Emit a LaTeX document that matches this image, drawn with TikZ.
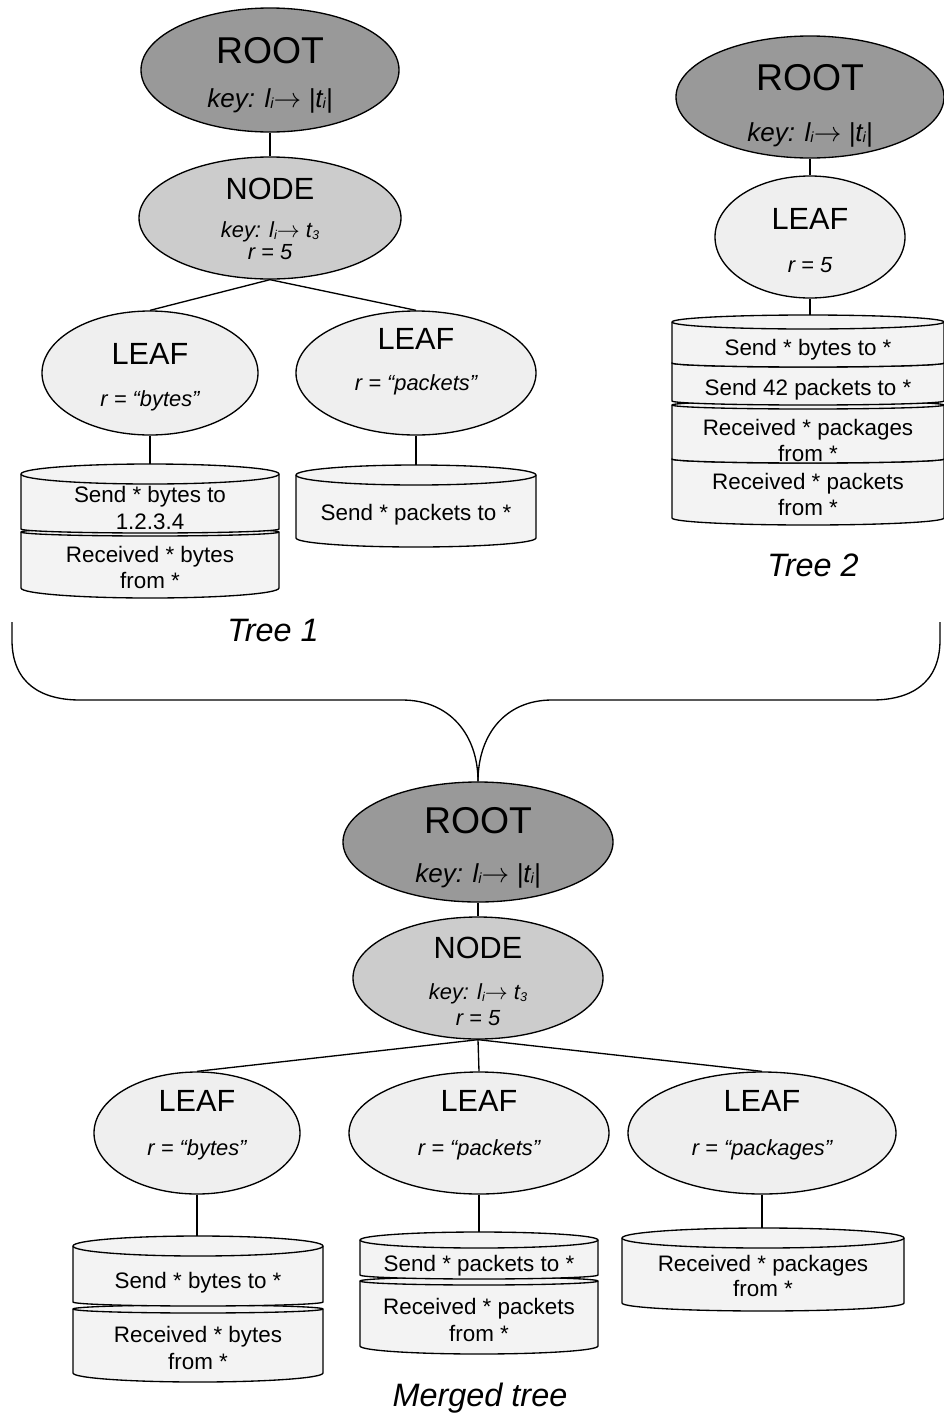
\documentclass[tikz,border=0pt]{standalone}
\usepackage{fontspec}
\setmainfont{Liberation Sans}
\usetikzlibrary{shapes.geometric}
\definecolor{rootgray}{HTML}{999999}
\definecolor{nodegray}{HTML}{CCCCCC}
\definecolor{leafgray}{HTML}{EFEFEF}
\definecolor{cylgray}{HTML}{F3F3F3}
% cylinder segment: cx, rx, y top, ry top, y bottom, ry bottom (pixels, y downwards)
\newcommand\cylseg[6]{%
  \path[cylbody] ({#1-#2},#3) -- ({#1-#2},#5)
    arc[start angle=180,end angle=360,x radius=#2*0.75pt,y radius=#6*0.75pt]
    -- ({#1+#2},#3)
    arc[start angle=0,end angle=180,x radius=#2*0.75pt,y radius=#4*0.75pt] -- cycle;
  \draw[cylline] ({#1-#2},#3)
    arc[start angle=180,end angle=360,x radius=#2*0.75pt,y radius=#4*0.75pt];
}
\newcommand\sbA[1]{\raisebox{-1pt}{\fontsize{11}{11}\selectfont #1}}
\newcommand\sbB[1]{\raisebox{-1pt}{\fontsize{9.5}{9.5}\selectfont #1}}
\newcommand\keyroot{key: l\sbA{i}$\rightarrow$ |t\sbA{i}|}
\newcommand\keynode{key: l\sbB{i}$\rightarrow$ t\sbB{3}}
\begin{document}
\begin{tikzpicture}[x=0.75pt,y=-0.75pt,
  ell/.style={ellipse, draw=black, line width=1pt, inner sep=0pt},
  esize/.style 2 args={minimum width=#1*1.5pt, minimum height=#2*1.5pt},
  rootst/.style={ell, fill=rootgray},
  nodest/.style={ell, fill=nodegray},
  leafst/.style={ell, fill=leafgray},
  conn/.style={draw=black, line width=1pt},
  cylbody/.style={fill=cylgray, draw=black, line width=1pt, line join=round},
  cylline/.style={draw=black, line width=1pt},
  bigtxt/.style={inner sep=0pt, font=\fontsize{28}{34}\selectfont, text height=20pt, text depth=0pt},
  rootkey/.style={inner sep=0pt, font=\itshape\fontsize{19.5}{24}\selectfont, text height=14pt, text depth=0pt},
  midtxt/.style={inner sep=0pt, font=\fontsize{23}{28}\selectfont, text height=16.5pt, text depth=0pt},
  keytxt/.style={inner sep=0pt, font=\itshape\fontsize{16.4}{20}\selectfont, text height=11.8pt, text depth=0pt},
  cyltxt/.style={inner sep=0pt, font=\fontsize{16.8}{20.5}\selectfont, text height=12pt, text depth=0pt},
  captxt/.style={inner sep=0pt, font=\itshape\fontsize{24.3}{29}\selectfont, text height=17.4pt, text depth=0pt}
]
\path[use as bounding box, fill=white] (0,0) rectangle (944,1414);

% ---------------- Tree 1 ----------------
\node[rootst, esize={129}{62}] (r1) at (270,70) {};
\node[bigtxt] (r1a) at (270,50) {ROOT};
\node[rootkey] (r1b) at (270,98) {\keyroot};
\node[nodest, esize={131}{61}] (n1) at (270,218) {};
\node[midtxt] (n1a) at (270,188) {NODE};
\node[keytxt] (n1b) at (270,230) {\keynode};
\node[keytxt] (n1c) at (270,252) {r = 5};
\node[leafst, esize={108}{62}] (l1a) at (150,373) {};
\node[midtxt] (l1at) at (150,353) {LEAF};
\node[keytxt] (l1ar) at (150,399) {r = “bytes”};
\node[leafst, esize={120}{62}] (l1b) at (416,373) {};
\node[midtxt] (l1bt) at (416,338) {LEAF};
\node[keytxt] (l1br) at (416,383) {r = “packets”};

\cylseg{150}{129}{532}{4}{588}{10}
\cylseg{150}{129}{474}{10}{529}{4}
\node[cyltxt] (c1a1) at (150,494) {Send * bytes to};
\node[cyltxt] (c1a2) at (150,521) {1.2.3.4};
\node[cyltxt] (c1a3) at (150,554) {Received * bytes};
\node[cyltxt] (c1a4) at (150,580) {from *};
\coordinate (c1atop) at (150,464);

\cylseg{416}{120}{475}{10}{538}{9}
\node[cyltxt] (c1b1) at (416,512) {Send * packets to *};
\coordinate (c1btop) at (416,465);

\draw[conn] (r1.south) -- (n1.north);
\draw[conn] (n1.south) -- (l1a.north);
\draw[conn] (n1.south) -- (l1b.north);
\draw[conn] (l1a.south) -- (c1atop);
\draw[conn] (l1b.south) -- (c1btop);
\node[captxt] (cap1) at (273,630) {Tree 1};

% ---------------- Tree 2 ----------------
\node[rootst, esize={134}{61}] (r2) at (810,97) {};
\node[bigtxt] (r2a) at (810,77) {ROOT};
\node[rootkey] (r2b) at (810,132) {\keyroot};
\node[leafst, esize={95}{61}] (l2) at (810,237) {};
\node[midtxt] (l2t) at (810,218) {LEAF};
\node[keytxt] (l2r) at (810,265) {r = 5};

\cylseg{808}{136}{459}{4}{518}{7}
\cylseg{808}{136}{405}{4}{459}{4}
\cylseg{808}{136}{363}{4}{401}{4}
\cylseg{808}{136}{322}{7}{363}{4}
\node[cyltxt] (c21) at (808,347) {Send * bytes to *};
\node[cyltxt] (c22) at (808,387) {Send 42 packets to *};
\node[cyltxt] (c23) at (808,427) {Received * packages};
\node[cyltxt] (c24) at (808,453) {from *};
\node[cyltxt] (c25) at (808,481) {Received * packets};
\node[cyltxt] (c26) at (808,507) {from *};
\coordinate (c2top) at (810,315);

\draw[conn] (r2.south) -- (l2.north);
\draw[conn] (l2.south) -- (c2top);
\node[captxt] (cap2) at (813,565) {Tree 2};

% ---------------- Merge brace ----------------
\node[rootst, esize={135}{60}] (rm) at (478,842) {};
\coordinate (bl) at (12,622);
\coordinate (br) at (940,622);
\draw[conn] (bl) -- (12,640) .. controls (12,684) and (42,700) .. (80,700)
  -- (402,700) .. controls (450,700) and (478,735) .. (rm.north);
\draw[conn] (br) -- (940,640) .. controls (940,684) and (910,700) .. (872,700)
  -- (552,700) .. controls (505,700) and (478,735) .. (rm.north);

% ---------------- Merged tree ----------------
\node[bigtxt] (rma) at (478,820) {ROOT};
\node[rootkey] (rmb) at (478,873) {\keyroot};
\node[nodest, esize={125}{61}] (nm) at (478,978) {};
\node[midtxt] (nma) at (478,947) {NODE};
\node[keytxt] (nmb) at (478,992) {\keynode};
\node[keytxt] (nmc) at (478,1018) {r = 5};

\node[leafst, esize={103}{61}] (lm1) at (197,1133) {};
\node[midtxt] (lm1t) at (197,1100) {LEAF};
\node[keytxt] (lm1r) at (197,1148) {r = “bytes”};
\node[leafst, esize={130}{61}] (lm2) at (479,1133) {};
\node[midtxt] (lm2t) at (479,1100) {LEAF};
\node[keytxt] (lm2r) at (479,1148) {r = “packets”};
\node[leafst, esize={134}{61}] (lm3) at (762,1133) {};
\node[midtxt] (lm3t) at (762,1100) {LEAF};
\node[keytxt] (lm3r) at (762,1148) {r = “packages”};

\cylseg{198}{125}{1309}{4}{1373}{9}
\cylseg{198}{125}{1246}{10}{1302}{4}
\node[cyltxt] (cm11) at (198,1280) {Send * bytes to *};
\node[cyltxt] (cm12) at (198,1334) {Received * bytes};
\node[cyltxt] (cm13) at (198,1361) {from *};
\coordinate (cm1top) at (197,1236);

\cylseg{479}{119}{1281}{4}{1346}{8}
\cylseg{479}{119}{1240}{8}{1275}{4}
\node[cyltxt] (cm21) at (479,1263) {Send * packets to *};
\node[cyltxt] (cm22) at (479,1306) {Received * packets};
\node[cyltxt] (cm23) at (479,1333) {from *};
\coordinate (cm2top) at (479,1232);

\cylseg{763}{141}{1238}{10}{1303}{8}
\node[cyltxt] (cm31) at (763,1263) {Received * packages};
\node[cyltxt] (cm32) at (763,1288) {from *};
\coordinate (cm3top) at (762,1228);

\draw[conn] (rm.south) -- (nm.north);
\draw[conn] (nm.south) -- (lm1.north);
\draw[conn] (nm.south) -- (lm2.north);
\draw[conn] (nm.south) -- (lm3.north);
\draw[conn] (lm1.south) -- (cm1top);
\draw[conn] (lm2.south) -- (cm2top);
\draw[conn] (lm3.south) -- (cm3top);
\node[captxt] (cap3) at (480,1395) {Merged tree};
\end{tikzpicture}
\end{document}
